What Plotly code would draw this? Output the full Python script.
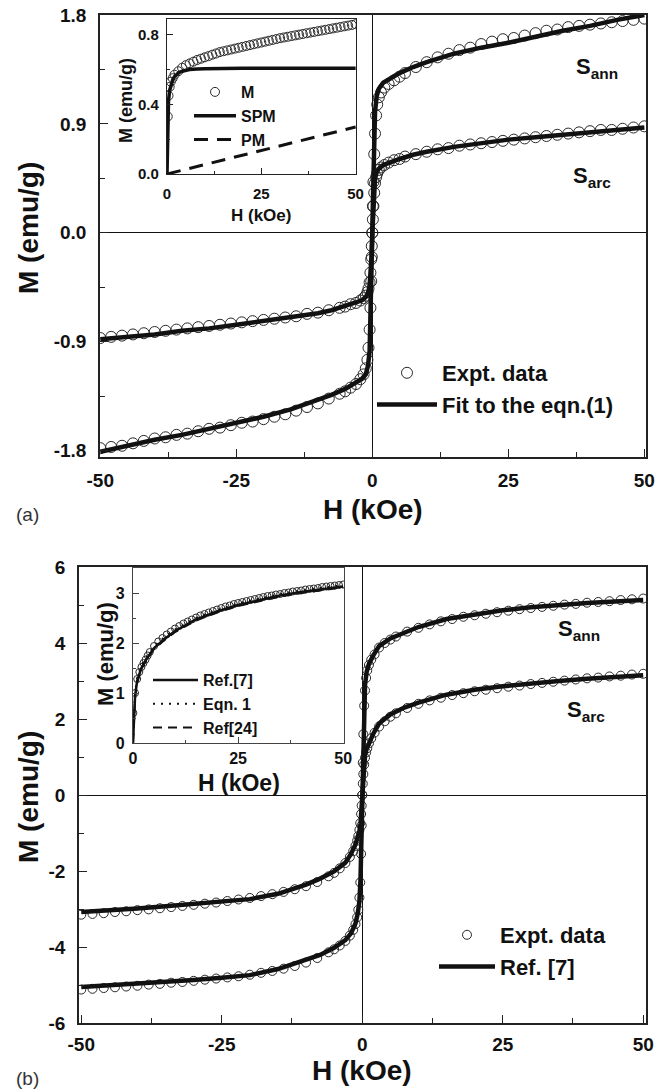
import plotly.graph_objects as go

# ---------------- data ----------------
# Panel (a): main loops
H_a_data = [-50, -48, -46, -44, -42, -40, -38, -36, -34, -32, -30, -28, -26, -24, -22, -20, -18, -16,
            -14, -12, -10, -8, -6, -5, -4, -3, -2.2, -1.6, -1.2, -0.9, -0.7, -0.5, -0.35, -0.2, -0.1,
            0, 0.1, 0.2, 0.35, 0.5, 0.7, 0.9, 1.2, 1.6, 2.2, 3, 4, 5, 6, 8, 10, 12, 14, 16, 18, 20,
            22, 24, 26, 28, 30, 32, 34, 36, 38, 40, 42, 44, 46, 48, 50]
Ma_ann_data = [-1.78, -1.77, -1.76, -1.74, -1.72, -1.70, -1.69, -1.67, -1.66, -1.64, -1.62, -1.61,
               -1.59, -1.57, -1.56, -1.54, -1.52, -1.50, -1.47, -1.44, -1.41, -1.37, -1.33, -1.31,
               -1.28, -1.25, -1.21, -1.17, -1.12, -1.05, -0.95, -0.80, -0.62, -0.40, -0.20,
               0.0, 0.22, 0.42, 0.65, 0.82, 0.97, 1.06, 1.12, 1.16, 1.20, 1.23, 1.26, 1.29, 1.32,
               1.37, 1.41, 1.45, 1.48, 1.51, 1.53, 1.56, 1.58, 1.60, 1.61, 1.63, 1.65, 1.67, 1.68,
               1.70, 1.71, 1.72, 1.73, 1.74, 1.75, 1.76, 1.77]
Ma_arc_data = [-0.87, -0.86, -0.85, -0.84, -0.83, -0.82, -0.81, -0.80, -0.79, -0.78, -0.77, -0.76,
               -0.75, -0.74, -0.73, -0.72, -0.71, -0.70, -0.69, -0.67, -0.66, -0.64, -0.62, -0.61,
               -0.59, -0.58, -0.56, -0.54, -0.52, -0.49, -0.46, -0.41, -0.33, -0.22, -0.11,
               0.0, 0.11, 0.22, 0.33, 0.41, 0.46, 0.49, 0.52, 0.54, 0.56, 0.58, 0.60, 0.61, 0.63,
               0.65, 0.67, 0.69, 0.70, 0.72, 0.73, 0.74, 0.75, 0.76, 0.77, 0.78, 0.79, 0.80, 0.81,
               0.82, 0.83, 0.84, 0.85, 0.85, 0.86, 0.87, 0.88]
H_fit = [-50, -45, -40, -35, -30, -25, -20, -15, -10, -7.5, -5, -3, -2, -1.2, -0.8, -0.5, -0.3, -0.15,
         0, 0.15, 0.3, 0.5, 0.8, 1.2, 2, 3, 5, 7.5, 10, 15, 20, 25, 30, 35, 40, 45, 50]
Ma_ann_fit = [-1.81, -1.76, -1.71, -1.67, -1.62, -1.57, -1.52, -1.46, -1.38, -1.34, -1.29, -1.24,
              -1.21, -1.17, -1.10, -0.98, -0.70, -0.35, 0.0, 0.35, 0.70, 1.00, 1.13, 1.19, 1.24,
              1.27, 1.32, 1.37, 1.41, 1.48, 1.53, 1.57, 1.62, 1.67, 1.71, 1.76, 1.80]
Ma_arc_fit = [-0.88, -0.86, -0.84, -0.81, -0.79, -0.76, -0.73, -0.70, -0.665, -0.64, -0.605, -0.58,
              -0.56, -0.53, -0.50, -0.44, -0.33, -0.20, 0.0, 0.20, 0.35, 0.45, 0.50, 0.53, 0.56,
              0.58, 0.61, 0.645, 0.67, 0.71, 0.74, 0.77, 0.79, 0.81, 0.83, 0.85, 0.87]

# Panel (a): inset (M, SPM and PM contributions)
H_in_a = [0.2, 0.4, 0.7, 1, 1.5, 2, 3, 4, 5, 6, 7, 8, 9, 10, 11, 12, 13, 14, 15, 16, 17, 18, 19, 20,
          21, 22, 23, 24, 25, 26, 27, 28, 29, 30, 31, 32, 33, 34, 35, 36, 37, 38, 39, 40, 41, 42,
          43, 44, 45, 46, 47, 48, 49, 50]
M_in_a = [0.33, 0.45, 0.50, 0.53, 0.55, 0.57, 0.59, 0.61, 0.625, 0.635, 0.645, 0.655, 0.662, 0.67,
          0.677, 0.685, 0.692, 0.70, 0.705, 0.71, 0.715, 0.72, 0.725, 0.73, 0.735, 0.74, 0.745,
          0.75, 0.755, 0.76, 0.765, 0.77, 0.775, 0.78, 0.784, 0.788, 0.792, 0.796, 0.80, 0.804,
          0.808, 0.812, 0.816, 0.82, 0.824, 0.828, 0.832, 0.836, 0.84, 0.844, 0.848, 0.852,
          0.856, 0.86]
H_spm = [0, 0.2, 0.4, 0.7, 1, 1.5, 2, 3, 4, 5, 6, 8, 10, 20, 30, 40, 50]
M_spm = [0, 0.30, 0.42, 0.48, 0.51, 0.54, 0.56, 0.58, 0.59, 0.595, 0.60, 0.603, 0.605, 0.607,
         0.607, 0.607, 0.607]
H_pm = [0, 50]
M_pm = [0, 0.27]

# Panel (b): main loops
H_b_data = H_a_data
Mb_ann_data = [-5.12, -5.10, -5.08, -5.06, -5.04, -5.02, -4.99, -4.97, -4.94, -4.92, -4.89, -4.86,
               -4.83, -4.80, -4.77, -4.73, -4.68, -4.63, -4.57, -4.50, -4.41, -4.29, -4.14, -4.06,
               -3.96, -3.84, -3.70, -3.55, -3.40, -3.22, -3.02, -2.70, -2.30, -1.55, -0.80,
               0.0, 0.85, 1.60, 2.35, 2.75, 3.08, 3.28, 3.42, 3.56, 3.70, 3.88, 4.00, 4.09, 4.17,
               4.30, 4.40, 4.49, 4.57, 4.63, 4.69, 4.73, 4.77, 4.81, 4.85, 4.89, 4.92, 4.95, 4.98,
               5.01, 5.03, 5.06, 5.08, 5.10, 5.13, 5.15, 5.17]
Mb_arc_data = [-3.15, -3.13, -3.11, -3.08, -3.06, -3.03, -3.01, -2.98, -2.95, -2.92, -2.89, -2.86,
               -2.83, -2.79, -2.75, -2.71, -2.66, -2.61, -2.55, -2.48, -2.40, -2.29, -2.14, -2.05,
               -1.93, -1.79, -1.63, -1.48, -1.34, -1.20, -1.08, -0.92, -0.74, -0.50, -0.28,
               0.0, 0.30, 0.55, 0.80, 0.98, 1.12, 1.23, 1.36, 1.49, 1.64, 1.80, 1.94, 2.06, 2.15,
               2.29, 2.40, 2.49, 2.56, 2.63, 2.68, 2.73, 2.77, 2.81, 2.85, 2.88, 2.92, 2.95, 2.98,
               3.01, 3.04, 3.07, 3.09, 3.12, 3.14, 3.17, 3.19]
Mb_ann_fit = [-5.05, -5.01, -4.97, -4.92, -4.87, -4.81, -4.74, -4.58, -4.35, -4.21, -4.02, -3.82,
              -3.64, -3.38, -3.12, -2.80, -2.20, -1.20, 0.0, 1.20, 2.20, 2.90, 3.25, 3.45, 3.68,
              3.92, 4.12, 4.28, 4.42, 4.63, 4.76, 4.86, 4.94, 5.00, 5.05, 5.09, 5.13]
Mb_arc_fit = [-3.08, -3.04, -2.99, -2.93, -2.87, -2.81, -2.74, -2.60, -2.36, -2.20, -2.01, -1.78,
              -1.55, -1.30, -1.12, -0.95, -0.75, -0.45, 0.0, 0.45, 0.80, 1.05, 1.22, 1.38, 1.62,
              1.88, 2.12, 2.30, 2.43, 2.64, 2.77, 2.86, 2.94, 3.00, 3.06, 3.11, 3.15]

# Panel (b): inset (model comparison)
H_in_b = [0.1, 0.5, 1, 1.5, 2, 2.5, 3, 3.5, 4, 5, 6, 7, 8, 9, 10, 11, 12, 13, 14, 15, 16, 17, 18, 19,
          20, 21, 22, 23, 24, 25, 26, 27, 28, 29, 30, 31, 32, 33, 34, 35, 36, 37, 38, 39, 40, 41,
          42, 43, 44, 45, 46, 47, 48, 49, 50]
M_in_b = [0.60, 1.00, 1.28, 1.42, 1.52, 1.60, 1.67, 1.75, 1.82, 1.94, 2.03, 2.10, 2.17, 2.23, 2.29,
          2.34, 2.39, 2.43, 2.47, 2.51, 2.55, 2.58, 2.61, 2.64, 2.67, 2.70, 2.73, 2.75, 2.78, 2.80,
          2.82, 2.84, 2.86, 2.88, 2.90, 2.92, 2.94, 2.95, 2.97, 2.98, 3.00, 3.01, 3.03, 3.04, 3.05,
          3.07, 3.08, 3.09, 3.10, 3.12, 3.13, 3.14, 3.15, 3.16, 3.17]
H_model = [0, 0.2, 0.5, 1, 2, 3, 5, 7.5, 10, 15, 20, 25, 30, 35, 40, 45, 50]
M_ref7 = [0, 0.50, 0.95, 1.25, 1.50, 1.65, 1.90, 2.08, 2.24, 2.47, 2.63, 2.76, 2.86, 2.95, 3.02, 3.08, 3.13]
M_eqn1 = [0, 0.55, 1.00, 1.30, 1.55, 1.70, 1.93, 2.12, 2.27, 2.50, 2.66, 2.79, 2.89, 2.98, 3.05, 3.11, 3.16]
M_ref24 = [0, 0.45, 0.90, 1.20, 1.48, 1.63, 1.88, 2.06, 2.22, 2.45, 2.61, 2.74, 2.84, 2.93, 3.00, 3.06, 3.11]

# tick labels
a_xt = [-50, -25, 0, 25, 50]
a_xl = ["-50", "-25", "0", "25", "50"]
a_yt = [-1.8, -0.9, 0.0, 0.9, 1.8]
a_yl = ["-1.8", "-0.9", "0.0", "0.9", "1.8"]
ai_xt = [0, 25, 50]
ai_xl = ["0", "25", "50"]
ai_yt = [0.0, 0.4, 0.8]
ai_yl = ["0.0", "0.4", "0.8"]
b_yt = [-6, -4, -2, 0, 2, 4, 6]
b_yl = ["-6", "-4", "-2", "0", "2", "4", "6"]
bi_yt = [0, 1, 2, 3]
bi_yl = ["0", "1", "2", "3"]

# ---------------- figure ----------------
W, HT = 669, 1090
FONT = "Liberation Sans, Arial, Helvetica, sans-serif"


def fx(p):
    return p / W


def fy(p):
    return 1 - p / HT


fig = go.Figure()

circ_main = dict(symbol="circle-open", size=11, color="#2a2a2a", line=dict(width=1, color="#2a2a2a"))
circ_b = dict(symbol="circle-open", size=9, color="#2a2a2a", line=dict(width=1, color="#2a2a2a"))
fitline = dict(color="#111111", width=4.5)

# (a) main
fig.add_trace(go.Scatter(x=H_a_data, y=Ma_ann_data, mode="markers", marker=circ_main,
                         name="Expt. data", legend="legend", xaxis="x", yaxis="y"))
fig.add_trace(go.Scatter(x=H_a_data, y=Ma_arc_data, mode="markers", marker=circ_main,
                         showlegend=False, xaxis="x", yaxis="y"))
fig.add_trace(go.Scatter(x=H_fit, y=Ma_ann_fit, mode="lines", line=fitline,
                         name="Fit to the eqn.(1)", legend="legend", xaxis="x", yaxis="y"))
fig.add_trace(go.Scatter(x=H_fit, y=Ma_arc_fit, mode="lines", line=fitline,
                         showlegend=False, xaxis="x", yaxis="y"))
# (a) inset
fig.add_trace(go.Scatter(x=H_in_a, y=M_in_a, mode="markers",
                         marker=dict(symbol="circle-open", size=9, color="#2a2a2a",
                                     line=dict(width=1, color="#2a2a2a")),
                         name="M", legend="legend2", xaxis="x2", yaxis="y2"))
fig.add_trace(go.Scatter(x=H_spm, y=M_spm, mode="lines", line=dict(color="#111", width=3.5),
                         name="SPM", legend="legend2", xaxis="x2", yaxis="y2"))
fig.add_trace(go.Scatter(x=H_pm, y=M_pm, mode="lines",
                         line=dict(color="#111", width=3, dash="14px,9px"),
                         name="PM", legend="legend2", xaxis="x2", yaxis="y2"))
# (b) main
fig.add_trace(go.Scatter(x=H_b_data, y=Mb_ann_data, mode="markers", marker=circ_b,
                         name="Expt. data", legend="legend3", xaxis="x3", yaxis="y3"))
fig.add_trace(go.Scatter(x=H_b_data, y=Mb_arc_data, mode="markers", marker=circ_b,
                         showlegend=False, xaxis="x3", yaxis="y3"))
fig.add_trace(go.Scatter(x=H_fit, y=Mb_ann_fit, mode="lines", line=fitline,
                         name="Ref. [7]", legend="legend3", xaxis="x3", yaxis="y3"))
fig.add_trace(go.Scatter(x=H_fit, y=Mb_arc_fit, mode="lines", line=fitline,
                         showlegend=False, xaxis="x3", yaxis="y3"))
# (b) inset
fig.add_trace(go.Scatter(x=H_in_b, y=M_in_b, mode="markers",
                         marker=dict(symbol="circle-open", size=7, color="#2a2a2a",
                                     line=dict(width=1, color="#2a2a2a")),
                         showlegend=False, xaxis="x4", yaxis="y4"))
fig.add_trace(go.Scatter(x=H_model, y=M_ref7, mode="lines", line=dict(color="#111", width=2.5),
                         name="Ref.[7]", legend="legend4", xaxis="x4", yaxis="y4"))
fig.add_trace(go.Scatter(x=H_model, y=M_eqn1, mode="lines",
                         line=dict(color="#111", width=2, dash="2px,6px"),
                         name="Eqn. 1", legend="legend4", xaxis="x4", yaxis="y4"))
fig.add_trace(go.Scatter(x=H_model, y=M_ref24, mode="lines",
                         line=dict(color="#111", width=2, dash="9px,6px"),
                         name="Ref[24]", legend="legend4", xaxis="x4", yaxis="y4"))


def axis(dom, rng, tv, tt, size, ticklen, minor_dtick, zeroline=False, lw=1.5,
         standoff=4, color="#222"):
    return dict(domain=dom, range=rng, tickmode="array", tickvals=tv, ticktext=tt,
                ticks="inside", ticklen=ticklen, tickwidth=1.3, tickcolor=color,
                showline=True, linecolor=color, linewidth=lw, mirror=True,
                showgrid=False, zeroline=zeroline, zerolinecolor="#111", zerolinewidth=1,
                tickfont=dict(family=FONT, size=size, color="#111", weight="bold"),
                ticklabelstandoff=standoff,
                minor=dict(dtick=minor_dtick, ticks="inside", ticklen=max(ticklen - 3, 3),
                           tickwidth=1.2, tickcolor=color, showgrid=False),
                automargin=False, fixedrange=True)


lay = dict(
    width=W, height=HT, margin=dict(l=0, r=0, t=0, b=0),
    paper_bgcolor="white", plot_bgcolor="rgba(0,0,0,0)",
    template="none", font=dict(family=FONT, color="#111"),
)
lay["xaxis"] = axis([fx(100), fx(646)], [-50.05, 50.3], a_xt, a_xl, 19, 8, 12.5,
                    zeroline=True, standoff=5)
lay["yaxis"] = axis([fy(457), fy(15)], [-1.853, 1.8], a_yt, a_yl, 19, 8, 0.45,
                    zeroline=True, standoff=8)
lay["xaxis2"] = axis([fx(167), fx(356)], [0, 50.1], ai_xt, ai_xl, 15, 6, 12.5, lw=1.2, standoff=6)
lay["yaxis2"] = axis([fy(174), fy(19)], [0, 0.89], ai_yt, ai_yl, 15, 6, 0.2, lw=1.2, standoff=4)
lay["xaxis3"] = axis([fx(79), fx(646)], [-50.4, 50.5], a_xt, a_xl, 19, 8, 12.5,
                     zeroline=True, standoff=3)
lay["yaxis3"] = axis([fy(1023), fy(567)], [-6, 6], b_yt, b_yl, 19, 8, 1,
                     zeroline=True, standoff=8)
lay["xaxis4"] = axis([fx(133), fx(344)], [0, 50.2], ai_xt, ai_xl, 16, 6, 12.5, lw=1.2,
                     standoff=1, color="#444")
lay["yaxis4"] = axis([fy(743), fy(568)], [0, 3.5], bi_yt, bi_yl, 16, 6, 0.5, lw=1.2,
                     standoff=4, color="#444")
for i in ["", "2", "3", "4"]:
    lay["xaxis" + i]["anchor"] = "y" + i
    lay["yaxis" + i]["anchor"] = "x" + i

leg_common = dict(xanchor="left", yanchor="top", bgcolor="rgba(0,0,0,0)", borderwidth=0,
                  tracegroupgap=0, traceorder="normal")
lay["legend"] = dict(x=fx(372), y=fy(352), itemwidth=60,
                     font=dict(family=FONT, size=22, color="#111", weight="bold"), **leg_common)
lay["legend2"] = dict(x=fx(189), y=fy(75), itemwidth=42,
                      font=dict(family=FONT, size=16, color="#111", weight="bold"), **leg_common)
lay["legend3"] = dict(x=fx(434), y=fy(914), itemwidth=56,
                      font=dict(family=FONT, size=22, color="#111", weight="bold"), **leg_common)
lay["legend4"] = dict(x=fx(148), y=fy(663), itemwidth=45,
                      font=dict(family=FONT, size=16, color="#111", weight="bold"), **leg_common)

ann = []


def text(x, y, s, size, bold=True, angle=0, xanchor="center", yanchor="middle", color="#111"):
    ann.append(dict(x=fx(x), y=fy(y), xref="paper", yref="paper", text=s, showarrow=False,
                    textangle=angle, xanchor=xanchor, yanchor=yanchor,
                    font=dict(family=FONT, size=size, color=color,
                              weight="bold" if bold else "normal")))


# axis titles
text(373, 509, "H (kOe)", 28)
text(28, 228, "M (emu/g)", 28, angle=-90)
text(261, 215, "H (kOe)", 17)
text(126, 100, "M (emu/g)", 18, angle=-90)
text(362, 1070, "H (kOe)", 28)
text(28, 797, "M (emu/g)", 28, angle=-90)
text(239, 783, "H (kOe)", 23)
text(105, 654, "M (emu/g)", 22, angle=-90)
# sample labels
text(574, 68, "S<sub>ann</sub>", 22, xanchor="left")
text(571, 177, "S<sub>arc</sub>", 22, xanchor="left")
text(556, 630, "S<sub>ann</sub>", 22, xanchor="left")
text(565, 711, "S<sub>arc</sub>", 22, xanchor="left")
# panel labels
text(14, 515, "(a)", 19, bold=False, xanchor="left", color="#333")
text(14, 1078, "(b)", 19, bold=False, xanchor="left", color="#333")
lay["annotations"] = ann

fig.update_layout(**lay)
fig.write_html("out.html")
